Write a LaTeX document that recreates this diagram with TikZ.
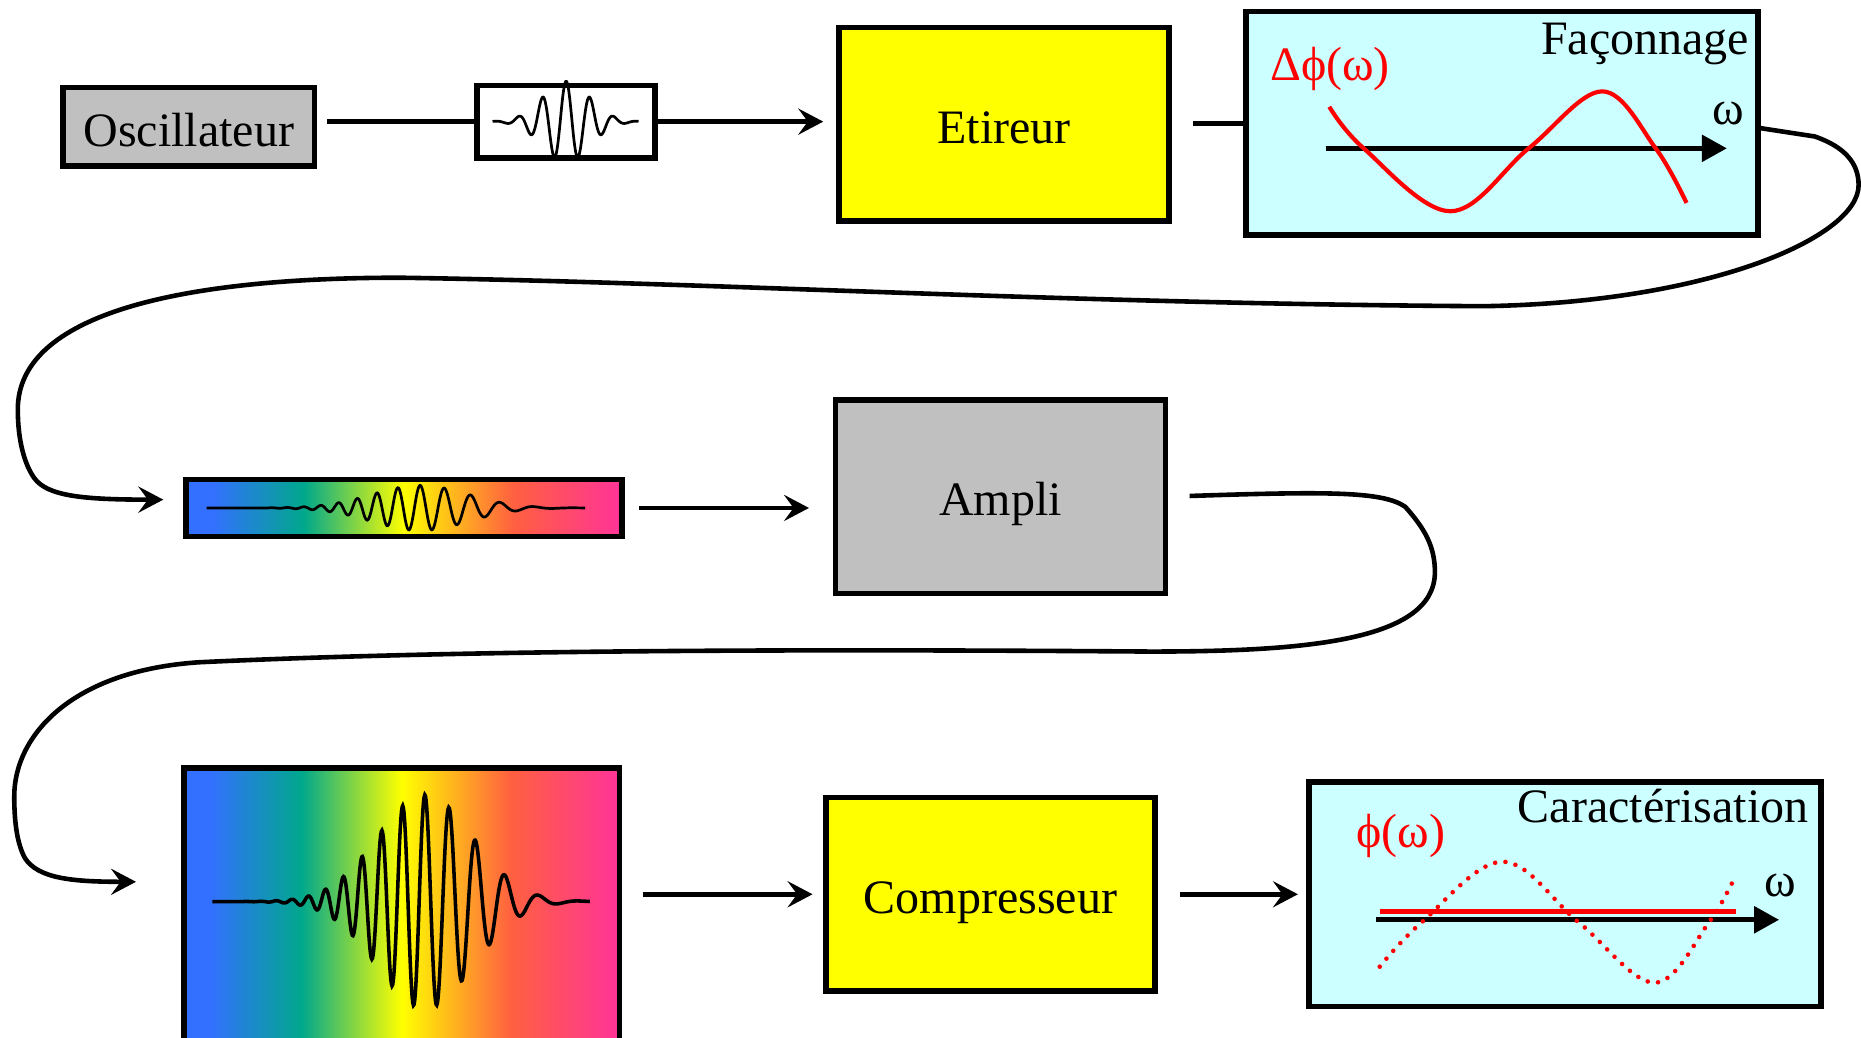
\documentclass[tikz,border=0pt]{standalone}
\usepackage{fontspec}
\setmainfont{Liberation Serif}
\usepackage{xcolor}
\usepackage{tikz}
\usetikzlibrary{arrows.meta}
\definecolor{boxgray}{RGB}{192,192,192}
\definecolor{boxyellow}{RGB}{255,255,0}
\definecolor{boxcyan}{RGB}{204,255,255}
\definecolor{rbblue}{RGB}{51,112,255}
\definecolor{rbteal}{RGB}{0,168,140}
\definecolor{rbyellow}{RGB}{255,255,0}
\definecolor{rbred}{RGB}{255,96,64}
\definecolor{rbpink}{RGB}{255,51,153}
\pgfdeclarehorizontalshading{rainbowshade}{100bp}{color(0bp)=(rbblue); color(28bp)=(rbblue); color(38.5bp)=(rbteal); color(50bp)=(rbyellow); color(62.5bp)=(rbred); color(75bp)=(rbpink); color(100bp)=(rbpink)}

\begin{document}
\begin{tikzpicture}[
  x=0.01cm, y=-0.01cm,
  box/.style={draw, line width=1.3pt, inner sep=0pt, text height=9.2pt, text depth=0pt,
    font=\fontsize{11.5}{13.8}\selectfont},
  graybox/.style={box, fill=boxgray},
  yellowbox/.style={box, fill=boxyellow},
  cyanbox/.style={box, fill=boxcyan},
  rainbox/.style={box, shading=rainbowshade},
  arrow/.style={-{Stealth[length=0.21cm, width=0.22cm, inset=0.08cm]}, line width=1.1pt},
  link/.style={line width=1.1pt},
  axis/.style={-{Triangle[length=0.21cm, width=0.22cm]}, line width=1.2pt},
  wave/.style={line width=0.65pt},
  phase/.style={red, line width=1pt},
  dotline/.style={red, line width=1.1pt, line cap=round, dash pattern=on 0pt off 2.5pt},
  lbl/.style={inner sep=0pt, font=\fontsize{11.5}{13.8}\selectfont}
]
\path[use as bounding box, clip] (0,0) rectangle (1568,874);

\node[graybox, minimum width=2.12cm, minimum height=0.66cm] (osc) at (159,107) {Oscillateur};
\node[box, fill=white, minimum width=1.50cm, minimum height=0.61cm] (pulse) at (477,102.5) {};
\node[yellowbox, minimum width=2.78cm, minimum height=1.63cm] (etireur) at (846,104.5) {Etireur};
\node[cyanbox, minimum width=4.31cm, minimum height=1.88cm] (faconnage) at (1265.5,104) {};
\node[rainbox, minimum width=3.67cm, minimum height=0.48cm] (chirp) at (340.5,428) {};
\node[graybox, minimum width=2.78cm, minimum height=1.63cm] (ampli) at (843,418.5) {Ampli};
\node[rainbox, minimum width=3.67cm, minimum height=2.58cm] (chirpbig) at (338.5,776) {};
\node[yellowbox, minimum width=2.77cm, minimum height=1.63cm] (compresseur) at (834.5,753.5) {Compresseur};
\node[cyanbox, minimum width=4.31cm, minimum height=1.89cm] (caract) at (1318.5,753.5) {};

\node[lbl, anchor=base east] (faconnagetitle) at ([xshift=-0.09cm, yshift=-0.38cm]faconnage.north east) {Façonnage};
\node[lbl, anchor=base west, red] (dphi) at ([xshift=0.22cm, yshift=-0.60cm]faconnage.north west) {Δϕ(ω)};
\node[lbl, anchor=base] (omegaone) at ([xshift=1.905cm, yshift=-0.01cm]faconnage.center) {ω};
\node[lbl, anchor=base east] (caracttitle) at ([xshift=-0.12cm, yshift=-0.366cm]caract.north east) {Caractérisation};
\node[lbl, anchor=base west, red] (phi) at ([xshift=0.415cm, yshift=-0.575cm]caract.north west) {ϕ(ω)};
\node[lbl, anchor=base] (omegatwo) at ([xshift=1.815cm, yshift=-0.015cm]caract.center) {ω};

\begin{scope}[shift={(pulse.center)}]
  \draw[wave] plot[domain=-62:61, samples=250] (\x, {-34*exp(-(\x/28)*(\x/28))*cos(18*\x)});
\end{scope}
\begin{scope}[shift={(chirp.center)}]
  \draw[wave] plot[domain=-166.5:152.5, samples=500] (\x, {-19*exp(-((\x-13.5)/57)*((\x-13.5)/57))*cos(360*((\x-13.5)/19.5-(0.01*(\x-13.5))*(0.01*(\x-13.5))))});
\end{scope}
\begin{scope}[shift={(chirpbig.north)}]
  \draw[wave, line width=0.85pt] plot[domain=-159.5:158.5, samples=600] (\x, {115-90*exp(-((\x-19.5)/57)*((\x-19.5)/57))*cos(360*((\x-19.5)/19.5-(0.01*(\x-19.5))*(0.01*(\x-19.5))))});
\end{scope}
\begin{scope}[shift={(faconnage.center)}]
  \draw[axis] (-148.5,21) -- (189.5,21);
  \draw[phase] plot[smooth, tension=0.6] coordinates {(-145.5,-14) (-116.5,21) (-43.5,74) (22.5,21) (84.5,-27) (129.5,21) (155.5,67)};
\end{scope}
\begin{scope}[shift={(caract.center)}]
  \draw[axis] (-159,21.5) -- (180.5,21.5);
  \draw[red, line width=1.3pt] (-156,14.5) -- (144.2,14.5);
  \draw[dotline] plot[smooth, tension=0.6] coordinates {(-156,61) (-120.5,23.5) (-52.5,-27.5) (11.5,23.5) (75.5,74.5) (121.5,23.5) (144.2,-16.5)};
\end{scope}

\draw[link, shorten <=0.08cm] (osc.east |- pulse.west) -- (pulse.west);
\draw[arrow, shorten >=0.11cm] (pulse.east) -- (pulse.east -| etireur.west);
\draw[link, shorten <=0.18cm] (etireur.east |- faconnage.west) -- (faconnage.west);
\draw[arrow, shorten >=0.17cm] ([yshift=-0.04cm]faconnage.east) -- (1529,115)
  .. controls (1555,124) and (1566,138) .. (1566,156)
  .. controls (1566,200) and (1440,255) .. (1250,258)
  .. controls (900,256) and (600,238) .. (337,234)
  .. controls (150,234) and (15,265) .. (15,345)
  .. controls (15,372) and (21,392) .. (29,403)
  .. controls (40,418) and (70,421) .. ([yshift=0.07cm]chirp.west);
\draw[arrow, shorten <=0.12cm, shorten >=0.2cm] (chirp.east) -- (chirp.east -| ampli.west);
\draw[arrow, shorten <=0.18cm, shorten >=0.38cm] (ampli.east)
  .. controls (1120,414) and (1165,414) .. (1184,427)
  .. controls (1200,445) and (1209,460) .. (1209,482)
  .. controls (1209,540) and (1100,549) .. (969,549)
  .. controls (700,547) and (400,547) .. (168,558)
  .. controls (60,565) and (12,620) .. (12,671)
  .. controls (12,695) and (15,712) .. (21,723)
  .. controls (32,740) and (60,743) .. ([yshift=0.33cm]chirpbig.west);
\draw[arrow, shorten <=0.17cm, shorten >=0.09cm] (chirpbig.east |- compresseur.west) -- (compresseur.west);
\draw[arrow, shorten <=0.19cm, shorten >=0.07cm] (compresseur.east) -- (caract.west);
\end{tikzpicture}
\end{document}
